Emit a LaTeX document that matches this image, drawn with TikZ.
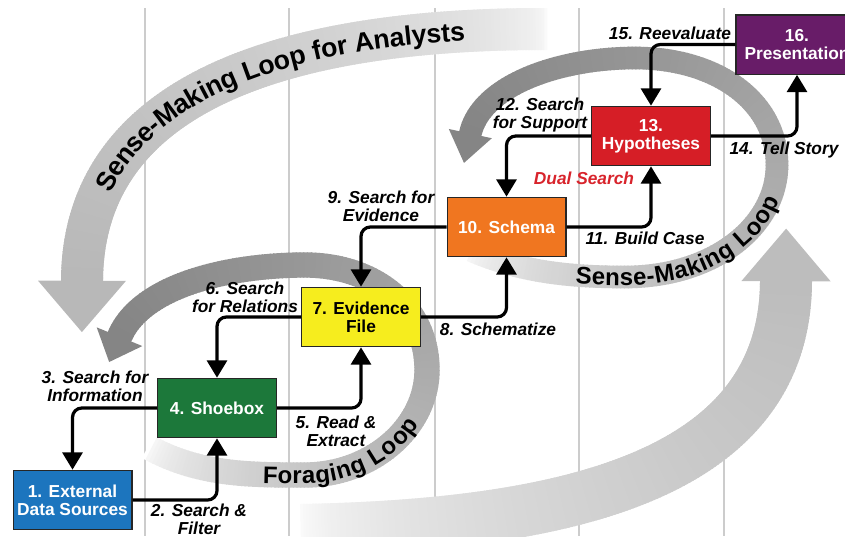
\documentclass[tikz,border=0pt]{standalone}
\usepackage{fontspec}
\setmainfont{Liberation Sans}
\usetikzlibrary{arrows.meta,decorations.markings,decorations.text}

\definecolor{extblue}{RGB}{28,117,190}
\definecolor{shoegreen}{RGB}{28,120,58}
\definecolor{evidyellow}{RGB}{246,237,30}
\definecolor{schemaorange}{RGB}{240,118,32}
\definecolor{hypored}{RGB}{214,30,38}
\definecolor{prespurple}{RGB}{104,28,104}
\definecolor{dualred}{RGB}{216,36,44}

\newcommand{\loopfont}{\bfseries\fontsize{18}{20}\selectfont}
\newcommand{\arcfont}{\bfseries\fontsize{20}{24}\selectfont}

\tikzset{
  stage/.style={draw=black!85, line width=1pt, minimum width=89pt, minimum height=44.5pt,
    align=center, text=white, inner sep=2pt, font=\bfseries\fontsize{13}{13.5}\selectfont},
  lbl/.style={align=center, inner sep=1pt, font=\bfseries\itshape\fontsize{13}{13.5}\selectfont},
  flow/.style={-{Triangle[length=13pt,width=15pt]}, line width=2.4pt, rounded corners=7pt},
  colline/.style={black!20, line width=1.5pt},
  % #1 half width, #2 head half width, #3 head length, #4 start shade, #5 end shade
  loopband/.style n args={5}{
    postaction={decorate,decoration={markings,
      mark=between positions 0 and 1 step 0.005 with {
        \pgfmathsetmacro\bandshade{#4+(#5-#4)*sqrt((\pgfkeysvalueof{/pgf/decoration/mark info/sequence number}-1)/200)}
        \fill[black!\bandshade] (-1.8pt,-#1) rectangle (1.8pt,#1);
      }}},
    postaction={decorate,decoration={markings,
      mark=at position 0.999 with {
        \fill[black!#5] (-0.5pt,-#2) -- (#3,0pt) -- (-0.5pt,#2) -- cycle;
      }}}
  }
}

\begin{document}
\begin{tikzpicture}[x=0.75pt,y=-0.75pt]
   \useasboundingbox (0,0) rectangle (845,536);
   \clip (0,0) rectangle (845,536);

   % column lines
   \foreach \cx in {145,289,435,579,724}
      \draw[colline] (\cx,8) -- (\cx,536);

   % outer loops
   \path[loopband={15.75pt}{33pt}{38pt}{2}{28}] (545,29) .. controls (250,29) and (82,110) .. (82,282);
   \path[loopband={19.5pt}{33.5pt}{39pt}{0}{26}] (300,530) .. controls (580,525) and (786,470) .. (786,280);
   \path[decorate,decoration={text along path,text={|\arcfont|Sense-Making Loop for Analysts},
      text align={left indent=72pt},raise=-7pt}]
      (82,282) .. controls (82,110) and (250,29) .. (545,29);

   % foraging loop
   \path[loopband={9.5pt}{18.5pt}{20pt}{0}{48}] (150,448) .. controls (200,475) and (250,475) .. (305,475)
      .. controls (372,475) and (427,427) .. (427,370) .. controls (427,305) and (372,265) .. (305,265)
      .. controls (230,265) and (140,285) .. (119,338);
   \path[decorate,decoration={text along path,text={|\loopfont|Foraging Loop},
      text align={left indent=88pt},raise=-6.5pt}]
      (150,448) .. controls (200,475) and (250,475) .. (305,475)
      .. controls (372,475) and (427,427) .. (427,370) .. controls (427,305) and (372,265) .. (305,265);

   % sense-making loop
   \path[loopband={8.5pt}{16.5pt}{22pt}{0}{48}] (470,250) .. controls (520,272) and (570,277) .. (625,277)
      .. controls (715,277) and (777,225) .. (777,165) .. controls (777,100) and (715,58) .. (635,58)
      .. controls (560,58) and (480,85) .. (470,135);
   \path[decorate,decoration={text along path,text={|\loopfont|Sense-Making Loop},
      text align={left indent=82pt},raise=-6.5pt}]
      (470,250) .. controls (520,272) and (570,277) .. (625,277)
      .. controls (715,277) and (777,225) .. (777,165) .. controls (777,100) and (715,58) .. (635,58);

   % stages
   \node[stage,fill=extblue] (ext) at (72.5,500) {1. External\\Data Sources};
   \node[stage,fill=shoegreen] (shoebox) at (217,408) {4. Shoebox};
   \node[stage,fill=evidyellow,text=black] (evid) at (361,317) {7. Evidence\\File};
   \node[stage,fill=schemaorange] (schema) at (506.5,227) {10. Schema};
   \node[stage,fill=hypored] (hypo) at (651,136) {13.\\Hypotheses};
   \node[stage,fill=prespurple,minimum width=91.5pt] (pres) at (797,44.5) {16.\\Presentation};

   \draw[flow] (ext.east) -| (shoebox.south);
   \draw[flow] (shoebox.west) -| (ext.north);
   \draw[flow] (shoebox.east) -| (evid.south);
   \draw[flow] (evid.west) -| (shoebox.north);
   \draw[flow] (evid.east) -| (schema.south);
   \draw[flow] (schema.west) -| (evid.north);
   \draw[flow] (schema.east) -| (hypo.south);
   \draw[flow] (hypo.west) -| (schema.north);
   \draw[flow] (hypo.east) -| (pres.south);
   \draw[flow] (pres.west) -| (hypo.north);

   \node[lbl] (l2) at (199,519) {2. Search \&\\Filter};
   \node[lbl] (l3) at (95,386) {3. Search for\\Information};
   \node[lbl] (l5) at (336,431) {5. Read \&\\Extract};
   \node[lbl] (l6) at (245,297) {6. Search\\for Relations};
   \node[lbl] (l8) at (498,329) {8. Schematize};
   \node[lbl] (l9) at (381,206) {9. Search for\\Evidence};
   \node[lbl] (l11) at (645,238) {11. Build Case};
   \node[lbl] (l12) at (540,115) {12. Search\\for Support};
   \node[lbl] (l14) at (784,150) {14. Tell Story};
   \node[lbl] (l15) at (670,33) {15. Reevaluate};
   \node[lbl,text=dualred] (dual) at (584,178) {Dual Search};
\end{tikzpicture}
\end{document}
